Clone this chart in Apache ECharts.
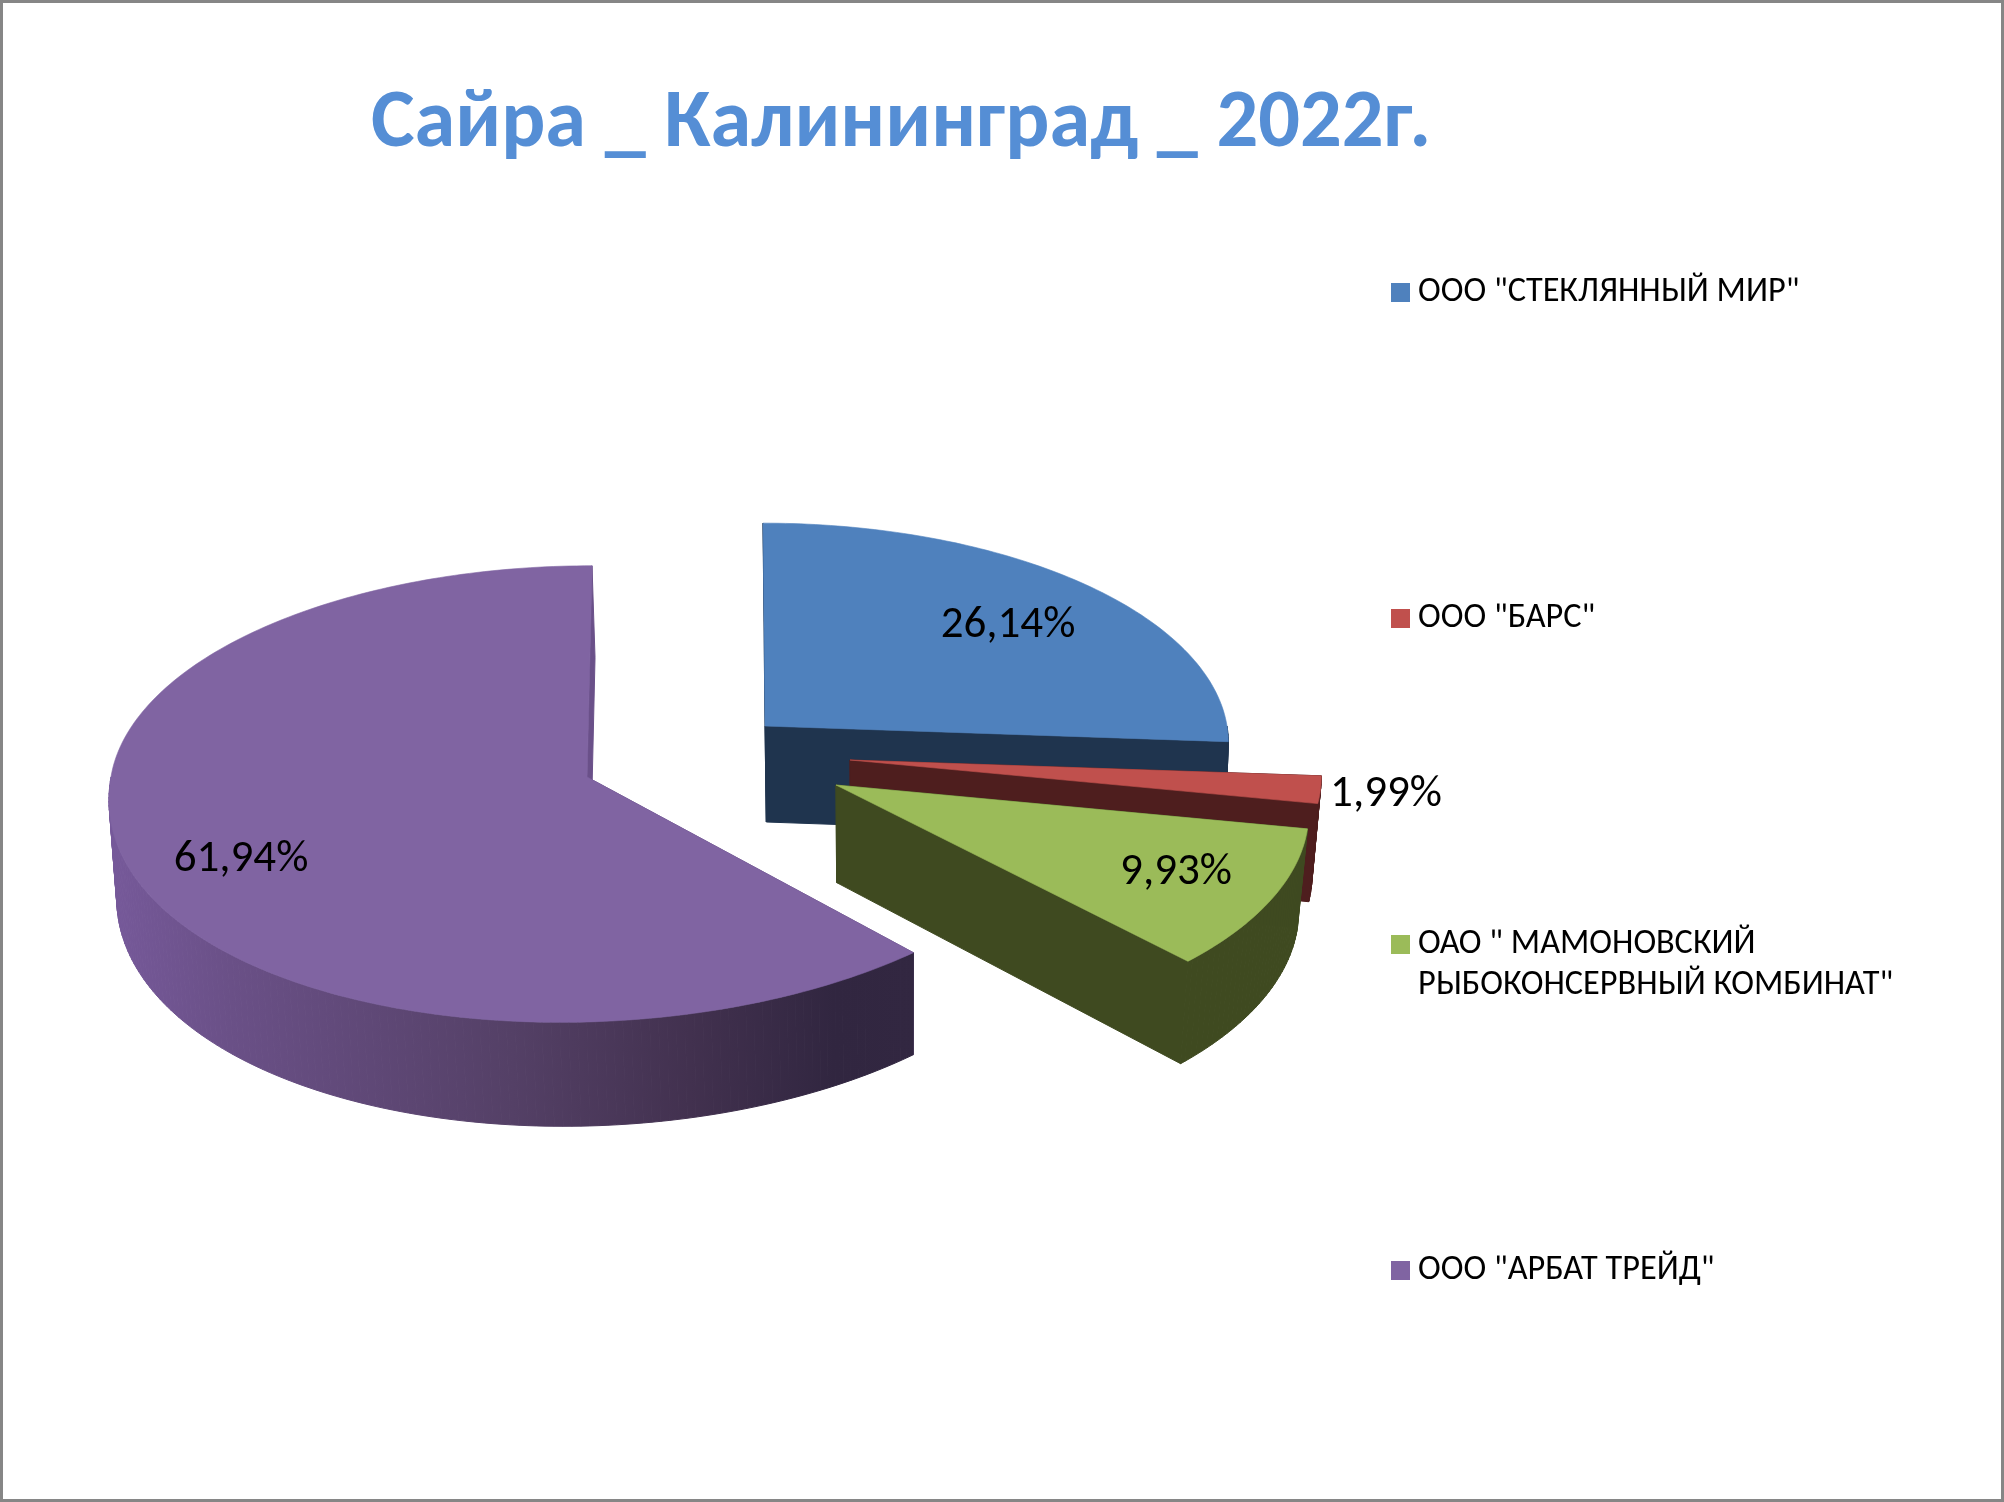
<!DOCTYPE html>
<html><head><meta charset="utf-8">
<style>html,body{margin:0;padding:0;background:#fff}#c{width:2004px;height:1502px}</style>
<script src="https://cdn.jsdelivr.net/npm/echarts@6/dist/echarts.min.js"></script>
</head><body><div id="c"></div>
<script>
const TITLE = 'Сайра _ Калининград _ 2022г.';
const CATEGORIES = ['ООО "СТЕКЛЯННЫЙ МИР"', 'ООО "БАРС"', 'ОАО " МАМОНОВСКИЙ РЫБОКОНСЕРВНЫЙ КОМБИНАТ"', 'ООО "АРБАТ ТРЕЙД"'];
const SHARES = [26.14, 1.99, 9.93, 61.94];
const TOP_COLORS = ['#4F81BD', '#C0504D', '#9BBB59', '#8064A2'];
const SIDE_COLORS = ['#1F344E', '#4E1E1E', '#3F4A20', '#6A5089'];
const LEGEND_TOPS = [272, 598, 883, 1250];
const FONT = 'Carlito, Lato, "Noto Sans", sans-serif';

// 3D projection of each exploded wedge: apex, radii, perspective, lean of back/front rim, bottom-rim shift
const GEO = [
  {ax: 765, ay: 726, R: 462, K: 218, p: .0746, su: -2, sl: 0, bx: 0, lx: 1008, ly: 626},
  {ax: 850, ay: 760, R: 470, K: 220, p: .0746, su: 0, sl: 0, bx: -5, lx: 1386, ly: 795},
  {ax: 836, ay: 785, R: 469, K: 219, p: .125, su: 0, sl: 0, bx: -6, lx: 1176, ly: 873},
  {ax: 587, ay: 777, R: 476, K: 227, p: .0746, su: 5, sl: -27, bx: 0, lx: 241, ly: 860}
];
const VX = 900, SHRINK = .0098, START = 90;

function rimPoint(g, deg) {
  const t = deg * Math.PI / 180, sn = Math.sin(t), s = 1 / (1 + g.p * sn);
  const lean = (sn > 0 ? g.su : g.sl) * Math.pow(Math.abs(sn), 1.5);
  return [g.ax + g.R * Math.cos(t) * s + lean, g.ay - g.K * sn * s];
}
const down = (g, pt) => [pt[0] + (VX - pt[0]) * SHRINK + g.bx * (pt[0] - g.ax) / g.R, pt[1] + 96 + (pt[1] - 726) * .027];
function poly(points, fill) {
  return {type: 'polygon', shape: {points}, style: {fill, stroke: fill, lineWidth: 1}};
}
function renderWedge(params, api) {
  const i = params.seriesIndex, g = GEO[i], share = api.value(0);
  const before = SHARES.slice(0, i).reduce((a, b) => a + b, 0);
  const a0 = START - before * 3.6, a1 = a0 - share * 3.6;
  const arc = [];
  for (let d = a0; d > a1; d -= 1) arc.push(d);
  arc.push(a1);
  const apex = [g.ax, g.ay], children = [];
  const sideFill = i === 3
    ? new echarts.graphic.LinearGradient(110, 0, 915, 0, [
        {offset: 0, color: '#76599A'}, {offset: .15, color: '#6A5087'}, {offset: .5, color: '#544066'},
        {offset: .72, color: '#42314F'}, {offset: .9, color: '#312640'}, {offset: 1, color: '#322741'}], true)
    : SIDE_COLORS[i];
  [a0, a1].forEach(d => {
    const p = rimPoint(g, d);
    children.push(poly([apex, p, down(g, p), down(g, apex)], SIDE_COLORS[i]));
  });
  const front = arc.filter(d => Math.sin(d * Math.PI / 180) <= .001).map(d => rimPoint(g, d));
  for (let k = 0; k + 1 < front.length; k++) {
    children.push(poly([front[k], front[k + 1], down(g, front[k + 1]), down(g, front[k])], sideFill));
  }
  children.push({type: 'polygon', shape: {points: [apex].concat(arc.map(d => rimPoint(g, d)))},
    style: {fill: TOP_COLORS[i], stroke: TOP_COLORS[i], lineWidth: .6}});
  children.push({type: 'text', style: {
    text: share.toFixed(2).replace('.', ',') + '%', x: g.lx, y: g.ly,
    align: 'center', verticalAlign: 'middle', fill: '#000', font: '45px ' + FONT}});
  return {type: 'group', children};
}
const chart = echarts.init(document.getElementById('c'), null, {renderer: 'canvas'});
chart.setOption({
  animation: false,
  backgroundColor: '#fff',
  title: {text: TITLE, left: 371, top: 84, padding: 0,
    textStyle: {color: '#558ED5', fontSize: 82.4, fontWeight: 'bold', fontFamily: FONT}},
  legend: CATEGORIES.map((name, i) => ({
    data: [name], left: 1391, top: LEGEND_TOPS[i], orient: 'vertical', padding: 0,
    selectedMode: false, icon: 'rect', itemWidth: 19, itemHeight: 19, itemGap: 0,
    formatter: n => n.includes(' РЫБО') ? '\n' + n.replace(' РЫБО', '\nРЫБО') : n,
    textStyle: {color: '#000', fontSize: 34.3, fontFamily: FONT, lineHeight: 41, padding: [0, 0, 0, 3]}
  })),
  graphic: [{type: 'rect', silent: true, shape: {x: 1.5, y: 1.5, width: 2001, height: 1499},
    style: {fill: 'none', stroke: '#868686', lineWidth: 3}, z: 100}],
  series: CATEGORIES.map((name, i) => ({
    type: 'custom', name, coordinateSystem: 'none', renderItem: renderWedge,
    data: [SHARES[i]], itemStyle: {color: TOP_COLORS[i]}, silent: true
  }))
});
</script></body></html>
